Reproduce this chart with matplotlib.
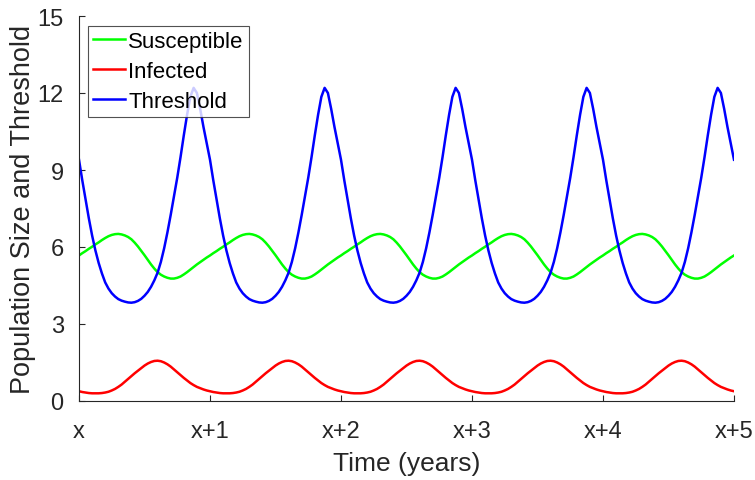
import matplotlib

matplotlib.use("Agg")
import matplotlib.pyplot as plt
import numpy as np

# readings every 0.025 year, one row per year (x .. x+5)
TIME = np.linspace(0, 5, 201)

SUSCEPTIBLE = [
    5.67, 5.76, 5.84, 5.93, 6.01, 6.10, 6.18, 6.27, 6.35, 6.42, 6.47, 6.50, 6.51, 6.49, 6.45, 6.39, 6.30, 6.17, 6.02, 5.85,
    5.68, 5.50, 5.32, 5.16, 5.02, 4.92, 4.85, 4.80, 4.77, 4.77, 4.80, 4.85, 4.93, 5.02, 5.12, 5.22, 5.32, 5.41, 5.50, 5.59,
    5.67, 5.76, 5.84, 5.93, 6.01, 6.10, 6.18, 6.27, 6.35, 6.42, 6.47, 6.50, 6.51, 6.49, 6.45, 6.39, 6.30, 6.17, 6.02, 5.85,
    5.68, 5.50, 5.32, 5.16, 5.02, 4.92, 4.85, 4.80, 4.77, 4.77, 4.80, 4.85, 4.93, 5.02, 5.12, 5.22, 5.32, 5.41, 5.50, 5.59,
    5.67, 5.76, 5.84, 5.93, 6.01, 6.10, 6.18, 6.27, 6.35, 6.42, 6.47, 6.50, 6.51, 6.49, 6.45, 6.39, 6.30, 6.17, 6.02, 5.85,
    5.68, 5.50, 5.32, 5.16, 5.02, 4.92, 4.85, 4.80, 4.77, 4.77, 4.80, 4.85, 4.93, 5.02, 5.12, 5.22, 5.32, 5.41, 5.50, 5.59,
    5.67, 5.76, 5.84, 5.93, 6.01, 6.10, 6.18, 6.27, 6.35, 6.42, 6.47, 6.50, 6.51, 6.49, 6.45, 6.39, 6.30, 6.17, 6.02, 5.85,
    5.68, 5.50, 5.32, 5.16, 5.02, 4.92, 4.85, 4.80, 4.77, 4.77, 4.80, 4.85, 4.93, 5.02, 5.12, 5.22, 5.32, 5.41, 5.50, 5.59,
    5.67, 5.76, 5.84, 5.93, 6.01, 6.10, 6.18, 6.27, 6.35, 6.42, 6.47, 6.50, 6.51, 6.49, 6.45, 6.39, 6.30, 6.17, 6.02, 5.85,
    5.68, 5.50, 5.32, 5.16, 5.02, 4.92, 4.85, 4.80, 4.77, 4.77, 4.80, 4.85, 4.93, 5.02, 5.12, 5.22, 5.32, 5.41, 5.50, 5.59,
    5.67,
]

INFECTED = [
    0.38, 0.35, 0.33, 0.31, 0.30, 0.30, 0.30, 0.31, 0.33, 0.36, 0.41, 0.47, 0.55, 0.64, 0.75, 0.86, 0.97, 1.08, 1.18, 1.28,
    1.38, 1.46, 1.52, 1.56, 1.57, 1.55, 1.50, 1.43, 1.34, 1.23, 1.12, 1.01, 0.90, 0.80, 0.70, 0.62, 0.55, 0.50, 0.45, 0.41,
    0.38, 0.35, 0.33, 0.31, 0.30, 0.30, 0.30, 0.31, 0.33, 0.36, 0.41, 0.47, 0.55, 0.64, 0.75, 0.86, 0.97, 1.08, 1.18, 1.28,
    1.38, 1.46, 1.52, 1.56, 1.57, 1.55, 1.50, 1.43, 1.34, 1.23, 1.12, 1.01, 0.90, 0.80, 0.70, 0.62, 0.55, 0.50, 0.45, 0.41,
    0.38, 0.35, 0.33, 0.31, 0.30, 0.30, 0.30, 0.31, 0.33, 0.36, 0.41, 0.47, 0.55, 0.64, 0.75, 0.86, 0.97, 1.08, 1.18, 1.28,
    1.38, 1.46, 1.52, 1.56, 1.57, 1.55, 1.50, 1.43, 1.34, 1.23, 1.12, 1.01, 0.90, 0.80, 0.70, 0.62, 0.55, 0.50, 0.45, 0.41,
    0.38, 0.35, 0.33, 0.31, 0.30, 0.30, 0.30, 0.31, 0.33, 0.36, 0.41, 0.47, 0.55, 0.64, 0.75, 0.86, 0.97, 1.08, 1.18, 1.28,
    1.38, 1.46, 1.52, 1.56, 1.57, 1.55, 1.50, 1.43, 1.34, 1.23, 1.12, 1.01, 0.90, 0.80, 0.70, 0.62, 0.55, 0.50, 0.45, 0.41,
    0.38, 0.35, 0.33, 0.31, 0.30, 0.30, 0.30, 0.31, 0.33, 0.36, 0.41, 0.47, 0.55, 0.64, 0.75, 0.86, 0.97, 1.08, 1.18, 1.28,
    1.38, 1.46, 1.52, 1.56, 1.57, 1.55, 1.50, 1.43, 1.34, 1.23, 1.12, 1.01, 0.90, 0.80, 0.70, 0.62, 0.55, 0.50, 0.45, 0.41,
    0.38,
]

THRESHOLD = [
    9.40, 8.60, 7.85, 7.12, 6.45, 5.87, 5.38, 4.97, 4.62, 4.38, 4.20, 4.07, 3.97, 3.91, 3.87, 3.84, 3.83, 3.85, 3.90, 3.98,
    4.10, 4.25, 4.45, 4.70, 5.00, 5.42, 5.95, 6.57, 7.25, 7.97, 8.70, 9.50, 10.35, 11.15, 11.85, 12.20, 12.00, 11.38, 10.68, 10.03,
    9.40, 8.60, 7.85, 7.12, 6.45, 5.87, 5.38, 4.97, 4.62, 4.38, 4.20, 4.07, 3.97, 3.91, 3.87, 3.84, 3.83, 3.85, 3.90, 3.98,
    4.10, 4.25, 4.45, 4.70, 5.00, 5.42, 5.95, 6.57, 7.25, 7.97, 8.70, 9.50, 10.35, 11.15, 11.85, 12.20, 12.00, 11.38, 10.68, 10.03,
    9.40, 8.60, 7.85, 7.12, 6.45, 5.87, 5.38, 4.97, 4.62, 4.38, 4.20, 4.07, 3.97, 3.91, 3.87, 3.84, 3.83, 3.85, 3.90, 3.98,
    4.10, 4.25, 4.45, 4.70, 5.00, 5.42, 5.95, 6.57, 7.25, 7.97, 8.70, 9.50, 10.35, 11.15, 11.85, 12.20, 12.00, 11.38, 10.68, 10.03,
    9.40, 8.60, 7.85, 7.12, 6.45, 5.87, 5.38, 4.97, 4.62, 4.38, 4.20, 4.07, 3.97, 3.91, 3.87, 3.84, 3.83, 3.85, 3.90, 3.98,
    4.10, 4.25, 4.45, 4.70, 5.00, 5.42, 5.95, 6.57, 7.25, 7.97, 8.70, 9.50, 10.35, 11.15, 11.85, 12.20, 12.00, 11.38, 10.68, 10.03,
    9.40, 8.60, 7.85, 7.12, 6.45, 5.87, 5.38, 4.97, 4.62, 4.38, 4.20, 4.07, 3.97, 3.91, 3.87, 3.84, 3.83, 3.85, 3.90, 3.98,
    4.10, 4.25, 4.45, 4.70, 5.00, 5.42, 5.95, 6.57, 7.25, 7.97, 8.70, 9.50, 10.35, 11.15, 11.85, 12.20, 12.00, 11.38, 10.68, 10.03,
    9.40,
]

X_TICKS = [0, 1, 2, 3, 4, 5]
X_TICK_LABELS = ["x", "x+1", "x+2", "x+3", "x+4", "x+5"]
Y_TICKS = [0, 3, 6, 9, 12, 15]

plt.rcParams["font.family"] = ["Liberation Sans", "DejaVu Sans"]
AXIS_GRAY = "#262626"

fig = plt.figure(figsize=(7.55, 4.81), dpi=100)
ax = fig.add_axes([79 / 755, (481 - 402) / 481, (734 - 79) / 755, (402 - 17) / 481])

ax.plot(TIME, SUSCEPTIBLE, color="#00ff00", lw=1.8, label="Susceptible")
ax.plot(TIME, INFECTED, color="#ff0000", lw=1.8, label="Infected")
ax.plot(TIME, THRESHOLD, color="#0000ff", lw=1.8, label="Threshold")

ax.set_xlim(0, 5)
ax.set_ylim(0, 15)
ax.set_xticks(X_TICKS)
ax.set_xticklabels(X_TICK_LABELS)
ax.set_yticks(Y_TICKS)
ax.tick_params(direction="in", length=4, width=0.8, colors=AXIS_GRAY, labelsize=17)
ax.tick_params(axis="x", pad=14)
ax.tick_params(axis="y", pad=11)
for side in ("top", "right"):
    ax.spines[side].set_visible(False)
for side in ("left", "bottom"):
    ax.spines[side].set_color(AXIS_GRAY)
    ax.spines[side].set_linewidth(0.8)

ax.set_xlabel("Time (years)", fontsize=19, color=AXIS_GRAY, labelpad=6)
ax.set_ylabel("Population Size and Threshold", fontsize=19.5, color=AXIS_GRAY, labelpad=1)

leg = ax.legend(loc="upper left", bbox_to_anchor=(0.0135, 0.974), fontsize=16, frameon=True,
                fancybox=False, edgecolor=AXIS_GRAY, handlelength=1.45, handletextpad=0.15,
                borderpad=0.22, labelspacing=0.4, borderaxespad=0)
leg.get_frame().set_linewidth(0.8)

fig.savefig("out.png", dpi=100)
